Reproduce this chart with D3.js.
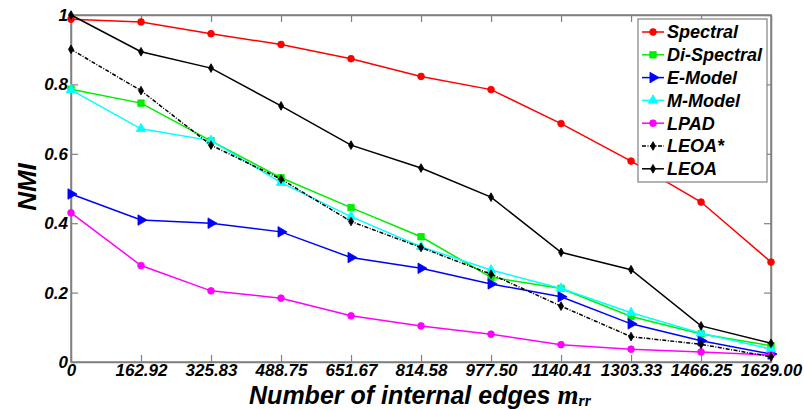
<!DOCTYPE html>
<html><head><meta charset="utf-8">
<script src="https://cdn.jsdelivr.net/npm/d3@7"></script>
<style>body{margin:0;background:#fff}svg{display:block}</style>
</head><body>
<script>
const xTicks = [0, 162.92, 325.83, 488.75, 651.67, 814.58, 977.50, 1140.41, 1303.33, 1466.25, 1629.00];
const xTickLabels = ["0","162.92","325.83","488.75","651.67","814.58","977.50","1140.41","1303.33","1466.25","1629.00"];
const yTicks = [0, 0.2, 0.4, 0.6, 0.8, 1];
const yTickLabels = ["0","0.2","0.4","0.6","0.8","1"];
const seriesNames = ["Spectral","Di-Spectral","E-Model","M-Model","LPAD","LEOA*","LEOA"];
const spectral   = [0.988,0.980,0.946,0.915,0.874,0.823,0.785,0.687,0.579,0.461,0.288];
const diSpectral = [0.786,0.746,0.637,0.531,0.445,0.361,0.244,0.212,0.131,0.081,0.047];
const eModel     = [0.484,0.409,0.400,0.375,0.301,0.270,0.225,0.188,0.110,0.061,0.023];
const mModel     = [0.784,0.672,0.638,0.517,0.419,0.332,0.265,0.212,0.142,0.083,0.037];
const lpad       = [0.430,0.278,0.205,0.184,0.133,0.104,0.080,0.050,0.037,0.029,0.020];
const leoaStar   = [0.901,0.782,0.625,0.527,0.405,0.330,0.253,0.161,0.073,0.051,0.015];
const leoa       = [1.000,0.894,0.847,0.738,0.625,0.559,0.475,0.316,0.266,0.104,0.054];

const seriesValues = [spectral, diSpectral, eModel, mModel, lpad, leoaStar, leoa];
const seriesColors = ["#ff0000","#00ee00","#0000ff","#00ffff","#ff00ff","#000000","#000000"];
const seriesMarkers = ["circle","square","triRight","triUp","circle","diamond","diamond"];
const seriesDash = [null,null,null,null,null,"4,1.5,1,1.5",null];

const W = 804, H = 410;
const m = {left:71, right:33, top:15, bottom:48};
const svg = d3.select("body").append("svg").attr("width",W).attr("height",H);
const x = d3.scaleLinear().domain([0,1629]).range([m.left, W-m.right]);
const y = d3.scaleLinear().domain([0,1]).range([H-m.bottom, m.top]);
const axisColor = "#808080";
const font = "'Liberation Sans', Arial, sans-serif";

// frame
svg.append("rect").attr("x",x(0)).attr("y",y(1)).attr("width",x(1629)-x(0)).attr("height",y(0)-y(1))
  .attr("fill","none").attr("stroke",axisColor).attr("stroke-width",1.5);

// axes with inward ticks
const tl = 7;
const gxB = svg.append("g").attr("transform",`translate(0,${y(0)})`)
  .call(d3.axisBottom(x).tickValues(xTicks).tickSizeInner(-tl).tickSizeOuter(0).tickFormat((d,i)=>xTickLabels[i]).tickPadding(2));
const gxT = svg.append("g").attr("transform",`translate(0,${y(1)})`)
  .call(d3.axisTop(x).tickValues(xTicks).tickSizeInner(-tl).tickSizeOuter(0).tickFormat(""));
const gyL = svg.append("g").attr("transform",`translate(${x(0)},0)`)
  .call(d3.axisLeft(y).tickValues(yTicks).tickSizeInner(-tl).tickSizeOuter(0).tickFormat((d,i)=>yTickLabels[i]).tickPadding(3));
const gyR = svg.append("g").attr("transform",`translate(${x(1629)},0)`)
  .call(d3.axisRight(y).tickValues(yTicks).tickSizeInner(-tl).tickSizeOuter(0).tickFormat(""));
[gxB,gxT,gyL,gyR].forEach(g=>{
  g.select(".domain").attr("stroke",axisColor).attr("stroke-width",1.5);
  g.selectAll(".tick line").attr("stroke",axisColor).attr("stroke-width",1.2);
  g.selectAll("text").attr("fill","#000").style("font-family",font).style("font-size","17px")
    .style("font-weight","bold").style("font-style","italic");
});

// lines & markers
const line = d3.line().x((d,i)=>x(xTicks[i])).y(d=>y(d));
const sym = {
  circle: d3.symbol().type(d3.symbolCircle).size(36),
  square: d3.symbol().type(d3.symbolSquare).size(42),
  triUp: d3.symbol().type(d3.symbolTriangle).size(40),
  triRight: d3.symbol().type(d3.symbolTriangle).size(48),
  diamond: d3.symbol().type(d3.symbolDiamond).size(22)
};
function drawMarker(g, type, cx, cy, color){
  const p = g.append("path").attr("d", sym[type]())
    .attr("fill",color).attr("stroke",color).attr("stroke-width",0.8);
  let t = `translate(${cx},${cy})`;
  if(type==="triRight") t += " rotate(90)";
  p.attr("transform",t);
}
const plot = svg.append("g");
seriesValues.forEach((vals,si)=>{
  const g = plot.append("g");
  g.append("path").datum(vals).attr("d",line).attr("fill","none")
    .attr("stroke",seriesColors[si]).attr("stroke-width",1.5)
    .attr("stroke-dasharray",seriesDash[si]);
  vals.forEach((v,i)=>drawMarker(g, seriesMarkers[si], x(xTicks[i]), y(v), seriesColors[si]));
});

// legend
const lg = svg.append("g");
const lx = 638, ly = 19, lw = 129, lh = 163;
lg.append("rect").attr("x",lx).attr("y",ly).attr("width",lw).attr("height",lh)
  .attr("fill","#fff").attr("stroke",axisColor).attr("stroke-width",1.2);
seriesNames.forEach((name,i)=>{
  const yy = 32 + i*22.8;
  lg.append("line").attr("x1",642).attr("x2",664).attr("y1",yy).attr("y2",yy)
    .attr("stroke",seriesColors[i]).attr("stroke-width",1.5).attr("stroke-dasharray",seriesDash[i]);
  drawMarker(lg, seriesMarkers[i], 653, yy, seriesColors[i]);
  lg.append("text").attr("x",667).attr("y",yy).attr("dy","0.36em").text(name)
    .style("font-family",font).style("font-size","18px").style("font-weight","bold").style("font-style","italic");
});

// axis titles
const xt = svg.append("text").attr("x",420).attr("y",404).attr("text-anchor","middle")
  .style("font-family",font).style("font-size","25px").style("font-weight","bold").style("font-style","italic");
xt.append("tspan").text("Number of internal edges ");
xt.append("tspan").text("m").style("font-family","'Liberation Serif','Times New Roman',serif").style("font-size","27px");
xt.append("tspan").text("rr").attr("dy",2).style("font-family","'Liberation Serif','Times New Roman',serif").style("font-size","16px");

svg.append("text").attr("transform",`translate(36,187) rotate(-90)`).attr("text-anchor","middle")
  .text("NMI").style("font-family",font).style("font-size","26px").style("font-weight","bold").style("font-style","italic");
</script>
</body></html>
